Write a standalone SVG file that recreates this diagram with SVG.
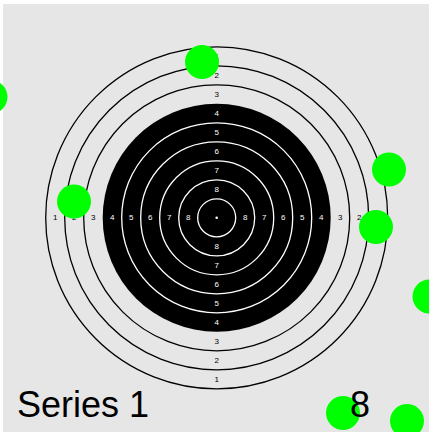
<svg xmlns="http://www.w3.org/2000/svg" width="429" height="432" viewBox="0 0 429 432">
<style>
.ro{fill:none;stroke:#000;stroke-width:1.3}
.ri{fill:none;stroke:#fff;stroke-width:1.3}
.lb{font-family:"Liberation Sans",Arial,sans-serif;font-size:8px;text-anchor:middle;dominant-baseline:central}
.lo{fill:#000}
.li{fill:#fff}
.hit{fill:#00ff00}
.big{font-family:"Liberation Sans",Arial,sans-serif;font-size:36px;fill:#000}
</style>
<rect width="429" height="432" fill="#fff"/>
<rect x="3" y="4" width="426" height="428" fill="#e6e6e6"/>
<g id="target" transform="translate(216.7,217.8)">
<circle class="ro" r="171"/>
<circle class="ro" r="152"/>
<circle class="ro" r="133"/>
<circle r="114" fill="#000"/>
<circle class="ri" r="95"/>
<circle class="ri" r="76"/>
<circle class="ri" r="57"/>
<circle class="ri" r="38"/>
<circle class="ri" r="19"/>
<circle r="1.3" fill="#fff"/>
<g class="lb lo">
<text x="-161.5" y="0">1</text><text x="-142.5" y="0">2</text><text x="-123.5" y="0">3</text>
<text x="161.5" y="0">1</text><text x="142.5" y="0">2</text><text x="123.5" y="0">3</text>
<text x="0" y="-161.5">1</text><text x="0" y="-142.5">2</text><text x="0" y="-123.5">3</text>
<text x="0" y="161.5">1</text><text x="0" y="142.5">2</text><text x="0" y="123.5">3</text>
</g>
<g class="lb li">
<text x="-104.5" y="0">4</text><text x="-85.5" y="0">5</text><text x="-66.5" y="0">6</text><text x="-47.5" y="0">7</text><text x="-28.5" y="0">8</text>
<text x="104.5" y="0">4</text><text x="85.5" y="0">5</text><text x="66.5" y="0">6</text><text x="47.5" y="0">7</text><text x="28.5" y="0">8</text>
<text x="0" y="-104.5">4</text><text x="0" y="-85.5">5</text><text x="0" y="-66.5">6</text><text x="0" y="-47.5">7</text><text x="0" y="-28.5">8</text>
<text x="0" y="104.5">4</text><text x="0" y="85.5">5</text><text x="0" y="66.5">6</text><text x="0" y="47.5">7</text><text x="0" y="28.5">8</text>
</g>
</g>
<g id="hits">
<circle class="hit" cx="202" cy="62" r="17"/>
<circle class="hit" cx="-9.5" cy="97" r="17"/>
<circle class="hit" cx="74" cy="201.5" r="17"/>
<circle class="hit" cx="389" cy="169.5" r="17"/>
<circle class="hit" cx="376" cy="227" r="17"/>
<circle class="hit" cx="429.5" cy="296.5" r="17"/>
<circle class="hit" cx="343" cy="413" r="17"/>
<circle class="hit" cx="407" cy="421" r="17"/>
</g>
<text class="big" x="17" y="417">Series 1</text>
<text class="big" x="350" y="417">8</text>
</svg>
